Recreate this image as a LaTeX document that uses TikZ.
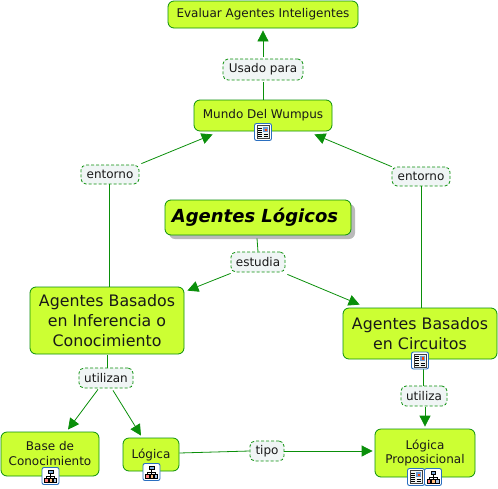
\documentclass[tikz,border=0pt]{standalone}
\usepackage{fontspec}
\setmainfont{DejaVu Sans}
\usetikzlibrary{arrows.meta,shadows}
\definecolor{lime}{HTML}{CCFF33}
\definecolor{edge}{HTML}{0A8F0A}
\definecolor{lblfill}{HTML}{F0F5F5}
\definecolor{iconblue}{HTML}{2A6FC0}
\newcommand{\fs}[1]{\fontsize{#1}{#1}\selectfont}
\tikzset{
  concept/.style={draw=edge,fill=lime,rounded corners=6pt,line width=0.8pt,align=center,inner sep=0pt,text=black!90},
  linker/.style={draw=edge,fill=lblfill,rounded corners=5pt,dashed,dash pattern=on 3pt off 2pt,line width=0.8pt,inner sep=0pt,text=black!90,font=\fs{12}},
  link/.style={draw=edge,line width=0.8pt},
  arrowlink/.style={link,-{Triangle[length=11pt,width=11pt]}},
  docicon/.pic={
    \draw[iconblue,fill=white,rounded corners=2pt,line width=0.9pt] (-8.5,-8.5) rectangle (8.5,8.5);
    \draw[black!75,fill=lblfill,line width=0.5pt] (-6,-6.5) rectangle (6,6.5);
    \foreach \yy in {-4.2,-2,0.2,2.4,4.6} \draw[black,line width=0.6pt] (-5,\yy) -- (-0.7,\yy);
    \fill[iconblue!70] (0.2,-5) rectangle (5,0);
    \fill[red!50!orange] (1.8,-3.2) rectangle (3.8,-1);
    \draw[black,line width=0.6pt] (0.5,2.4) -- (5,2.4) (0.5,4.6) -- (5,4.6);
  },
  treeicon/.pic={
    \draw[iconblue,fill=white,rounded corners=2pt,line width=0.9pt] (-8.5,-8.5) rectangle (8.5,8.5);
    \draw[black,line width=0.5pt] (0,-2.5) -- (0,0) (-4.2,2.2) -- (-4.2,0) -- (4.2,0) -- (4.2,2.2) (0,0) -- (0,2.2);
    \draw[black,fill=iconblue!60,line width=0.4pt] (-2.2,-6.2) rectangle (2.2,-2.5);
    \draw[black,fill=red!50,line width=0.4pt] (-6,2.2) rectangle (-2.6,5.8);
    \draw[black,fill=orange!50,line width=0.4pt] (-1.7,2.2) rectangle (1.7,5.8);
    \draw[black,fill=iconblue!40,line width=0.4pt] (2.6,2.2) rectangle (6,5.8);
  },
}
\begin{document}
\begin{tikzpicture}[x=1pt,y=-1pt]
\useasboundingbox (0,0) rectangle (498,488);
% concepts
\node[concept,minimum width=190pt,minimum height=27pt,font=\fs{12}] (eval) at (263,14.5) {Evaluar Agentes Inteligentes};
\node[concept,minimum width=138pt,minimum height=31pt,font=\fs{12}] (mundo) at (263,115.5) {\raisebox{3pt}{Mundo Del Wumpus}};
\node[concept,minimum width=186pt,minimum height=35pt,drop shadow={shadow xshift=4pt,shadow yshift=-4pt,fill=black!45,opacity=0.6},font=\fs{18}\bfseries\itshape,text=black] (main) at (258,217.5) {\hspace*{-6pt}Agentes Lógicos};
\node[concept,minimum width=154pt,minimum height=67pt,font=\fs{15.8}] (abic) at (107,320.5) {Agentes Basados\\[4pt] en Inferencia o\\[4pt] Conocimiento};
\node[concept,minimum width=154pt,minimum height=51pt,font=\fs{15.8}] (abc) at (420,333.5) {Agentes Basados\\[4pt] en Circuitos};
\node[concept,minimum width=98pt,minimum height=44pt,font=\fs{12}] (base) at (50,454) {Base de\\[3pt] Conocimiento};
\node[concept,minimum width=56pt,minimum height=33pt,font=\fs{12}] (logica) at (151,454.5) {\raisebox{1pt}{Lógica}};
\node[concept,minimum width=100pt,minimum height=48pt,font=\fs{12}] (prop) at (425,453) {\raisebox{3pt}{\parbox{90pt}{\centering Lógica\\[2pt] Proposicional}}};
% linking phrases
\node[linker,minimum width=80pt,minimum height=21pt] (usado) at (263,69.5) {Usado para};
\node[linker,minimum width=58pt,minimum height=19pt] (entl) at (110,174.5) {entorno};
\node[linker,minimum width=58pt,minimum height=19pt] (entr) at (421,176.5) {entorno};
\node[linker,minimum width=54pt,minimum height=20pt] (estudia) at (258,262) {estudia};
\node[linker,minimum width=54pt,minimum height=20pt] (utilizan) at (106,378) {utilizan};
\node[linker,minimum width=46pt,minimum height=20pt] (utiliza) at (424,396) {utiliza};
\node[linker,minimum width=34pt,minimum height=20pt] (tipo) at (267,451) {tipo};
% connectors
\draw[arrowlink] ([yshift=2pt]usado.north) -- ([yshift=-2pt]eval.south);
\draw[link] (mundo.north) -- ([yshift=-2pt]usado.south);
\draw[link] ([xshift=-1pt]entl.south) -- ([xshift=2pt]abic.north);
\draw[arrowlink] ([xshift=2pt,yshift=1pt]entl.north east) -- ([xshift=19pt,yshift=-3pt]mundo.south west);
\draw[link] (entr.south) -- ([xshift=1pt]abc.north);
\draw[arrowlink] (entr.north west) -- ([xshift=-18pt,yshift=-3pt]mundo.south east);
\draw[link] ([xshift=-1pt,yshift=-3pt]main.south) -- (estudia.north);
\draw[arrowlink] ([yshift=-1pt]estudia.south west) -- ([xshift=3pt,yshift=-4pt]abic.north east);
\draw[arrowlink] ([xshift=2pt,yshift=-2pt]estudia.south east) -- ([xshift=17pt,yshift=3pt]abc.north west);
\draw[link] ([yshift=-1pt]abic.south) -- ([xshift=1pt]utilizan.north);
\draw[arrowlink] ([xshift=-8pt,yshift=-1pt]utilizan.south) -- ([xshift=18pt,yshift=2pt]base.north);
\draw[arrowlink] ([xshift=7pt,yshift=-2pt]utilizan.south) -- ([xshift=-10pt,yshift=2pt]logica.north);
\draw[link] ([xshift=3pt,yshift=-9pt]abc.south) -- ([xshift=-1pt]utiliza.north);
\draw[arrowlink] ([xshift=1pt,yshift=-1pt]utiliza.south) -- ([yshift=2pt]prop.north);
\draw[link] ([yshift=1.5pt]logica.east) -- (tipo.west);
\draw[arrowlink] (tipo.east) -- ([xshift=-2pt,yshift=2pt]prop.west);
% icons
\path (263,132) pic {docicon};
\path (420,360.5) pic {docicon};
\path (50.5,476) pic {treeicon};
\path (151.5,472) pic {treeicon};
\path (416,477) pic {docicon};
\path (433,477) pic {treeicon};
\end{tikzpicture}
\end{document}
